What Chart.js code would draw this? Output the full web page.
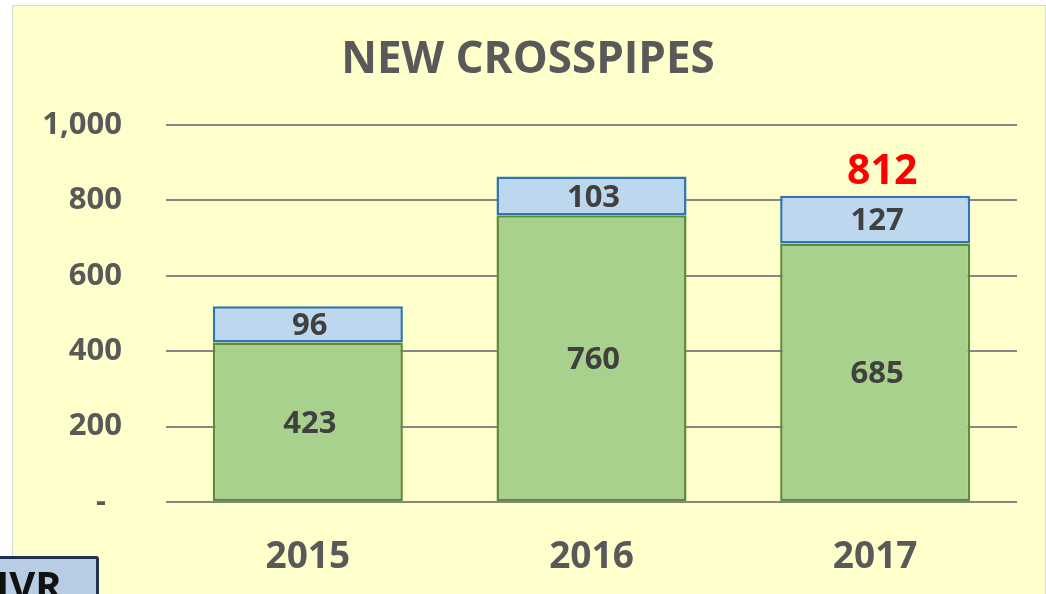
<!DOCTYPE html>
<html lang="en">
<head>
    <meta charset="UTF-8">
    <title>New Crosspipes</title>
    <script src="https://cdn.jsdelivr.net/npm/chart.js"></script>
    <style>
        body {
            margin: 0;
            background: #ffffff;
            width: 1046px;
            height: 594px;
            overflow: hidden;
            position: relative;
            font-family: "Open Sans", sans-serif;
        }
        .panel {
            position: absolute;
            left: 12px;
            top: 5px;
            width: 1032px;
            height: 600px;
            border: 1px solid #d9d9d9;
            background: #ffffcc;
        }
        .chart-box {
            position: absolute;
            left: 0;
            top: 0;
            width: 1032px;
            height: 588px;
        }
        .ivr {
            position: absolute;
            left: -12px;
            top: 556px;
            width: 111px;
            height: 60px;
            border: 3px solid #1f3050;
            border-radius: 3px;
            background: #b8cce4;
            color: #111;
            font-weight: bold;
            font-size: 40px;
            line-height: 1;
            padding: 6px 0 0 5px;
            box-sizing: border-box;
        }
    </style>
</head>
<body>
    <div class="panel">
        <div class="chart-box">
            <canvas id="barChart"></canvas>
        </div>
    </div>
    <div class="ivr">IVR</div>

    <script>
        const years = ['2015', '2016', '2017'];
        const baseValues = [423, 760, 685];
        const extraValues = [96, 103, 127];
        const yTicks = [0, 200, 400, 600, 800, 1000];
        const totalShownFor = ['2017'];

        // labels in the middle of each segment + red total over the highlighted bar
        const segmentLabels = {
            id: 'segmentLabels',
            afterDatasetsDraw(chart) {
                const ctx = chart.ctx;
                ctx.save();
                ctx.textAlign = 'center';
                ctx.textBaseline = 'middle';
                chart.data.datasets.forEach((ds, i) => {
                    const meta = chart.getDatasetMeta(i);
                    meta.data.forEach((bar, j) => {
                        const mid = (bar.y + bar.base) / 2;
                        ctx.fillStyle = '#404040';
                        ctx.font = 'bold 31px "Open Sans"';
                        ctx.fillText(ds.data[j], bar.x + 2, mid + 2);
                    });
                });
                const top = chart.getDatasetMeta(1);
                years.forEach((yr, j) => {
                    if (!totalShownFor.includes(yr)) return;
                    const total = baseValues[j] + extraValues[j];
                    const bar = top.data[j];
                    ctx.fillStyle = '#ff0000';
                    ctx.font = 'bold 41px "Open Sans"';
                    ctx.fillText(total, bar.x + 7, bar.y - 23);
                });
                ctx.restore();
            }
        };

        const ctx = document.getElementById('barChart').getContext('2d');
        const barChart = new Chart(ctx, {
            type: 'bar',
            data: {
                labels: years,
                datasets: [
                    {
                        label: 'Base',
                        data: baseValues,
                        backgroundColor: '#a9d18e',
                        borderColor: '#5b8c3a',
                        borderWidth: 2.5,
                        borderSkipped: false
                    },
                    {
                        label: 'Extra',
                        data: extraValues,
                        backgroundColor: '#bdd7ee',
                        borderColor: '#2e75b6',
                        borderWidth: 2.5,
                        borderSkipped: false
                    }
                ]
            },
            options: {
                responsive: true,
                maintainAspectRatio: false,
                animation: false,
                categoryPercentage: 0.67,
                barPercentage: 1,
                layout: {
                    padding: { left: 26, right: 28, top: 0, bottom: 0 }
                },
                plugins: {
                    legend: { display: false },
                    tooltip: { enabled: false },
                    title: {
                        display: true,
                        text: 'NEW CROSSPIPES',
                        color: '#595959',
                        font: { family: 'Open Sans', size: 44, weight: 'bold' },
                        padding: { top: 28, bottom: 38 }
                    }
                },
                scales: {
                    x: {
                        stacked: true,
                        grid: { display: false, drawTicks: false },
                        border: { display: false },
                        ticks: {
                            color: '#595959',
                            font: { family: 'Open Sans', size: 37, weight: 'bold' },
                            padding: 33
                        },
                        afterFit(scale) { scale.height = 92; }
                    },
                    y: {
                        stacked: true,
                        min: 0,
                        max: 1000,
                        afterBuildTicks(scale) {
                            scale.ticks = yTicks.map(v => ({ value: v }));
                        },
                        grid: {
                            color: '#868686',
                            lineWidth: 2,
                            drawTicks: false
                        },
                        border: { display: false },
                        ticks: {
                            color: '#595959',
                            font: { family: 'Open Sans', size: 31, weight: 'bold' },
                            padding: 44,
                            // accounting style: zero shows as a dash set back from the edge
                            callback: v => v === 0 ? '-  ' : v.toLocaleString('en-US')
                        },
                        afterFit(scale) { scale.width = 127; }
                    }
                }
            },
            plugins: [segmentLabels]
        });
    </script>
</body>
</html>
